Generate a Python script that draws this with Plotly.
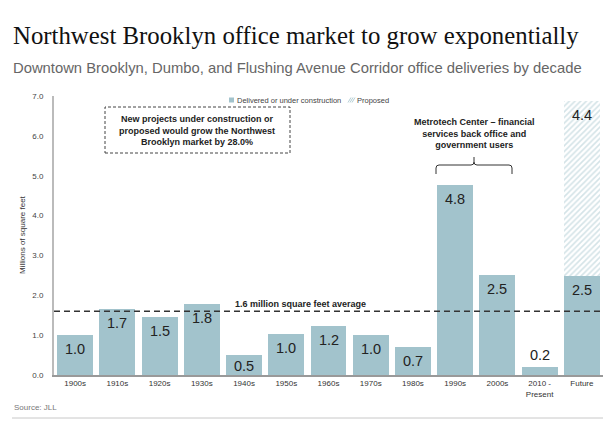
import plotly.graph_objects as go

categories = ["1900s", "1910s", "1920s", "1930s", "1940s", "1950s", "1960s",
              "1970s", "1980s", "1990s", "2000s", "2010 -<br>Present", "Future"]
delivered = [1.0, 1.65, 1.46, 1.78, 0.5, 1.02, 1.22, 1.0, 0.7, 4.77, 2.51, 0.2, 2.48]
delivered_labels = ["1.0", "1.7", "1.5", "1.8", "0.5", "1.0", "1.2", "1.0", "0.7", "4.8", "2.5", "0.2", "2.5"]
proposed = [0, 0, 0, 0, 0, 0, 0, 0, 0, 0, 0, 0, 4.4]
proposed_labels = ["", "", "", "", "", "", "", "", "", "", "", "", "4.4"]
average = 1.6
y_ticks = [0, 1, 2, 3, 4, 5, 6, 7]

W, H = 615, 427
ML, MR, MT, MB = 54, 12, 96, 52
PW, PH = W - ML - MR, H - MT - MB

def px(x):
    return (x - ML) / PW

def py(y):
    return (H - MB - y) / PH

BAR = "#a2c3cc"
SANS = "Liberation Sans, Arial, sans-serif"

fig = go.Figure()
fig.add_trace(go.Bar(x=categories, y=delivered, name="Delivered or under construction",
                     marker=dict(color=BAR, line=dict(width=0)), showlegend=False))
fig.add_trace(go.Bar(x=categories, y=proposed, name="Proposed",
                     marker=dict(color="white", line=dict(width=0),
                                 pattern=dict(shape="/", fgcolor="#aac8d0", bgcolor="white",
                                              size=4, solidity=0.4)),
                     showlegend=False))

ann = []
ppu = PH / 7.0
LABEL_FONT = dict(family=SANS, size=14.5, color="#222")
for i, (v, lab) in enumerate(zip(delivered, delivered_labels)):
    top = H - MB - v * ppu
    if v < 0.35:
        ann.append(dict(x=categories[i], y=v, xref="x", yref="y", text=lab, showarrow=False,
                        xanchor="center", yanchor="bottom", yshift=2, font=LABEL_FONT))
    else:
        center = min(top + 14, 366)
        ann.append(dict(x=categories[i], y=v, xref="x", yref="y", text=lab, showarrow=False,
                        xanchor="center", yanchor="middle", yshift=-(center - top), font=LABEL_FONT))
for i, (v, lab) in enumerate(zip(proposed, proposed_labels)):
    if lab:
        ann.append(dict(x=categories[i], y=delivered[i] + v, xref="x", yref="y", text=lab,
                        showarrow=False, xanchor="center", yanchor="middle", yshift=-14,
                        font=LABEL_FONT))

def note(x, y, text, size, color, xanchor="center", angle=0, align="center"):
    ann.append(dict(x=px(x), y=py(y), xref="paper", yref="paper", xanchor=xanchor,
                    yanchor="middle", text=text, showarrow=False, textangle=angle, align=align,
                    font=dict(family=SANS, size=size, color=color)))

# titles
ann.append(dict(x=px(11), y=py(35), xref="paper", yref="paper", xanchor="left", yanchor="middle",
                text="Northwest Brooklyn office market to grow exponentially", showarrow=False,
                font=dict(family="Liberation Serif, Times New Roman, serif", size=24.8, color="#111")))
note(11, 68, "Downtown Brooklyn, Dumbo, and Flushing Avenue Corridor office deliveries by decade",
     14.8, "#666", xanchor="left")
note(22, 235, "Millions of square feet", 8, "#333", angle=-90)
note(12, 408, "Source: JLL", 8, "#777", xanchor="left")
note(300, 304, "<b>1.6 million square feet average</b>", 9, "#222")
note(197, 130, "<b>New projects under construction or<br>proposed would grow the Northwest<br>Brooklyn market by 28.0%</b>",
     9, "#222")
note(474, 133, "<b>Metrotech Center \u2013 financial<br>services back office and<br>government users</b>",
     9, "#222")
note(235, 100, "Delivered or under construction", 7.5, "#444", xanchor="left")
note(355, 100, "Proposed", 7.5, "#444", xanchor="left")

shapes = []
shapes.append(dict(type="line", xref="paper", yref="y", x0=0, x1=1, y0=average, y1=average,
                   line=dict(color="#333", width=1.6, dash="6px,4px")))
shapes.append(dict(type="rect", xref="paper", yref="paper", x0=px(105), x1=px(290),
                   y0=py(153), y1=py(107), line=dict(color="#444", width=1, dash="3px,2px")))
# bracket
bx0, bx1, bxc = px(436), px(512), px(474)
shapes.append(dict(type="path", xref="paper", yref="paper",
                   path=(f"M{bx0},{py(174)} L{bx0},{py(168)} Q{bx0},{py(165)} {px(439)},{py(165)} "
                         f"L{px(471)},{py(165)} Q{bxc},{py(165)} {bxc},{py(162)} L{bxc},{py(157)} "
                         f"M{bxc},{py(162)} Q{bxc},{py(165)} {px(477)},{py(165)} L{px(509)},{py(165)} "
                         f"Q{bx1},{py(165)} {bx1},{py(168)} L{bx1},{py(174)}"),
                   line=dict(color="#333", width=1)))
# legend swatches
shapes.append(dict(type="rect", xref="paper", yref="paper", x0=px(229), x1=px(234),
                   y0=py(102.5), y1=py(97.5), fillcolor=BAR, line=dict(width=0)))
for k in range(3):
    shapes.append(dict(type="line", xref="paper", yref="paper",
                       x0=px(348 + 2 * k), x1=px(351 + 2 * k), y0=py(102.5), y1=py(97.5),
                       line=dict(color="#b5cfd6", width=1)))
# bottom rule
shapes.append(dict(type="line", xref="paper", yref="paper", x0=px(12), x1=px(603),
                   y0=py(418), y1=py(418), line=dict(color="#c8c8c8", width=1)))

fig.update_layout(
    width=W, height=H, margin=dict(l=ML, r=MR, t=MT, b=MB),
    plot_bgcolor="white", paper_bgcolor="white",
    barmode="stack", bargap=0.15, showlegend=False,
    annotations=ann, shapes=shapes,
    xaxis=dict(showline=True, linecolor="#999", linewidth=1.5, ticks="", showgrid=False,
               tickfont=dict(family=SANS, size=8, color="#333"), fixedrange=True),
    yaxis=dict(range=[0, 7], tickvals=y_ticks, ticktext=[f"{t:.1f}" for t in y_ticks],
               showline=True, linecolor="#bbb", linewidth=2, ticks="", showgrid=False,
               zeroline=False, ticklabelstandoff=7,
               tickfont=dict(family=SANS, size=8, color="#444")),
)

fig.write_html("out.html", config={"displayModeBar": False},
               post_script="document.body.style.margin='0';")
